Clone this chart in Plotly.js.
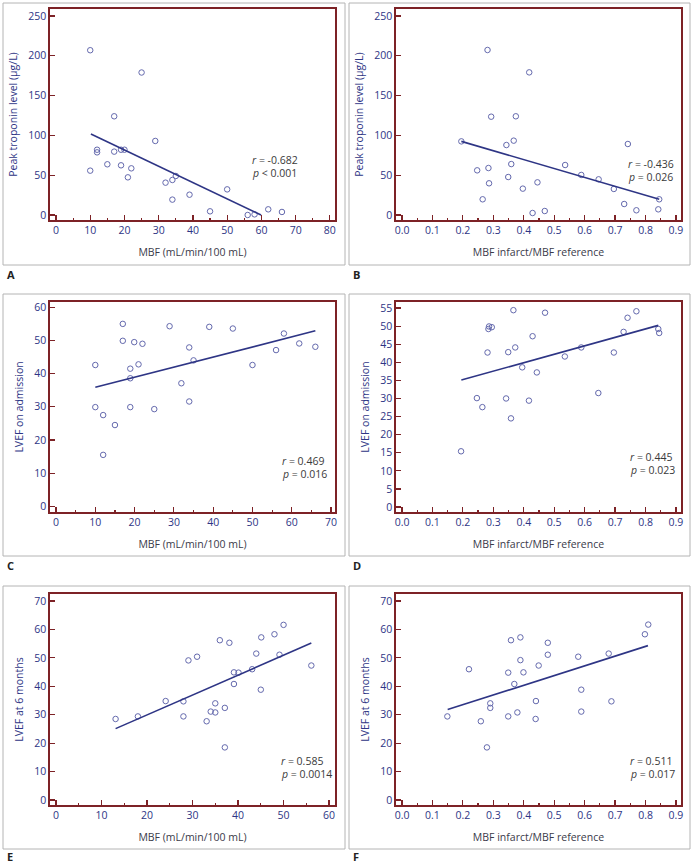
<!DOCTYPE html>
<html>
<head>
<meta charset="utf-8">
<script src="https://cdn.plot.ly/plotly-3.0.1.min.js"></script>
<style>html,body{margin:0;padding:0;background:#fff}#chart{width:693px;height:864px}</style>
</head>
<body>
<div id="chart"></div>
<script>
// Panel A: MBF vs peak troponin
var aMBF = [10,25,17,29,12,12,17,19,20,15,19,22,10,21,35,34,32,50,39,34,45,56,58,62,66];
var aTrop = [207,179,124,93,82,78.7,79.6,82,82,63.7,62.4,58.6,55.7,47.3,49,44,40.6,32.2,25.5,19.3,4.6,0,0.8,7.1,3.8];
var aFitX = [10.2,59.9];
var aFitY = [101.8,0];

// Panel B: MBF ratio vs peak troponin
var bRatio = [0.281,0.418,0.293,0.374,0.195,0.343,0.367,0.742,0.359,0.536,0.589,0.284,0.247,0.349,0.646,0.445,0.286,0.397,0.696,0.265,0.845,0.730,0.469,0.429,0.770,0.842];
var bTrop = [207.3,179.2,123.5,124,92.5,87.9,93.4,89.2,64,62.8,50.3,59,56.1,47.7,44.8,41,39.8,33.1,32.7,19.7,19.7,13.8,5.0,2.5,5.9,7.1];
var bFitX = [0.195,0.845];
var bFitY = [92.5,19.7];

// Panel C: MBF vs LVEF on admission
var cMBF = [17,28.9,39,45,58,17,19.9,22,61.9,33.9,66,56,35,10,21,50,18.9,18.9,31.9,33.9,10,18.9,25,12,15,12];
var cLVEF = [55,54.3,54.1,53.6,52.1,49.9,49.5,49,49.1,47.9,48.1,47.1,44,42.6,42.8,42.6,41.5,38.6,37.1,31.6,29.9,29.9,29.3,27.5,24.5,15.5];
var cFitX = [10,66];
var cFitY = [35.9,52.9];

// Panel D: MBF ratio vs LVEF on admission
var dRatio = [0.366,0.470,0.770,0.741,0.286,0.295,0.284,0.842,0.728,0.845,0.429,0.372,0.589,0.281,0.349,0.696,0.535,0.395,0.443,0.645,0.246,0.342,0.417,0.264,0.358,0.194];
var dLVEF = [54.4,53.7,54.1,52.3,49.9,49.7,49.2,49.2,48.4,48.1,47.2,44.1,44.1,42.7,42.8,42.7,41.6,38.6,37.2,31.5,30.1,30.0,29.4,27.6,24.5,15.4];
var dFitX = [0.195,0.842];
var dFitY = [35.1,50.2];

// Panel E: MBF vs LVEF at 6 months
var eMBF = [50,48,36,38.1,45.1,31,29.1,44,49.1,43.1,56.1,39.1,40.1,39.1,45,24.1,28,35,37.1,34,35,13.1,18,28,33.1,37.1];
var eLVEF = [61.6,58.3,56.2,55.3,57.2,50.4,49.1,51.5,51.1,46,47.3,44.9,44.8,40.8,38.8,34.8,34.7,34,32.4,31.1,30.8,28.5,29.4,29.4,27.7,18.5];
var eFitX = [13.1,56.1];
var eFitY = [25.1,55.2];

// Panel F: MBF ratio vs LVEF at 6 months
var fRatio = [0.809,0.798,0.358,0.389,0.479,0.479,0.579,0.679,0.389,0.449,0.220,0.349,0.399,0.369,0.589,0.440,0.688,0.290,0.290,0.379,0.589,0.149,0.349,0.259,0.439,0.279];
var fLVEF = [61.7,58.3,56.2,57.2,55.3,51.1,50.4,51.5,49.2,47.3,46,44.8,44.9,40.8,38.8,34.8,34.7,34,32.4,30.8,31.1,29.4,29.4,27.7,28.5,18.5];
var fFitX = [0.15,0.808];
var fFitY = [31.8,54.3];

var stats = [["-0.682","<","0.001"],["-0.436","=","0.026"],["0.469","=","0.016"],["0.445","=","0.023"],["0.585","=","0.0014"],["0.511","=","0.017"]];
var panelLetters = ["A","B","C","D","E","F"];
var xTitles = ["MBF (mL/min/100 mL)","MBF infarct/MBF reference"];
var yTitles = ["Peak troponin level (\u03bcg/L)","LVEF on admission","LVEF at 6 months"];

var W = 693, H = 864;
function px(x){return x/W;}
function py(y){return 1 - y/H;}

var NAVY = "#2e3585";
var MARK = "#6469ad";
var MAROON = "#7d2226";
var FONT = "Open Sans, DejaVu Sans, sans-serif";

var series = [
  [aMBF,aTrop,aFitX,aFitY],
  [bRatio,bTrop,bFitX,bFitY],
  [cMBF,cLVEF,cFitX,cFitY],
  [dRatio,dLVEF,dFitX,dFitY],
  [eMBF,eLVEF,eFitX,eFitY],
  [fRatio,fLVEF,fFitX,fFitY]
];

var traces = [];
series.forEach(function(s,i){
  var xa = i===0 ? "x" : "x"+(i+1);
  var ya = i===0 ? "y" : "y"+(i+1);
  traces.push({x:s[0],y:s[1],xaxis:xa,yaxis:ya,type:"scatter",mode:"markers",
    marker:{symbol:"circle-open",size:5.5,color:MARK,line:{width:1,color:MARK}},
    showlegend:false,hoverinfo:"skip",cliponaxis:false});
  traces.push({x:s[2],y:s[3],xaxis:xa,yaxis:ya,type:"scatter",mode:"lines",
    line:{color:NAVY,width:1.6},showlegend:false,hoverinfo:"skip"});
});

// geometry (pixels)
var colX = [[50,335],[396,681]];
var rowY = [[9,220],[302,512],[594,805]];
var xRanges = [[-1.75,81.5],[-0.0197,0.9166],[-1.53,71.0],[-0.0197,0.9166],[-1.31,61.3],[-0.0197,0.9166]];
var yRanges = [[-6.3,258.8],[-6.3,258.8],[-1.72,61.6],[-1.38,56.66],[-1.76,72.46],[-1.76,72.46]];
var yDticks = [50,50,10,5,10,10];
var xDticks = [10,0.1,10,0.1,10,0.1];
var xMinor = [5,0.05,5,0.05,5,0.05];
var annPos = [[56.6,69,52.8],[0.736,64,47.7],[57,13.6,9.8],[0.741,13.7,10.3],[48.9,13.7,9.25],[0.741,13.7,9.2]];

var layout = {width:W,height:H,margin:{l:0,r:0,t:0,b:0},paper_bgcolor:"#fff",plot_bgcolor:"#fff",
  font:{family:FONT,size:10,color:NAVY},shapes:[],annotations:[]};

var boxes = [[3,3,345,265],[349,3,690,265],[3,294,345,556],[349,294,690,556],[3,586,345,849],[349,586,690,849]];
var letterPos = [[5,274],[351,274],[5,565],[351,565],[5,856.5],[351,856.5]];

for (var i=0;i<6;i++){
  var col = i%2, row = Math.floor(i/2);
  var xk = i===0 ? "xaxis" : "xaxis"+(i+1);
  var yk = i===0 ? "yaxis" : "yaxis"+(i+1);
  var yid = i===0 ? "y" : "y"+(i+1);
  var xid = i===0 ? "x" : "x"+(i+1);
  layout[xk] = {domain:[px(colX[col][0]),px(colX[col][1])],anchor:yid,range:xRanges[i],
    dtick:xDticks[i],tick0:0,tickformat: col===1 ? ".1f" : "d",
    ticks:"inside",ticklen:5,tickwidth:1.2,tickcolor:MAROON,
    minor:{dtick:xMinor[i],tick0:0,ticks:"inside",ticklen:2.5,tickwidth:1.2,tickcolor:MAROON},
    showline:true,linecolor:MAROON,linewidth:1.6,mirror:true,showgrid:false,zeroline:false,
    tickfont:{family:FONT,size:10.5,color:NAVY},
    title:{text:xTitles[col],font:{family:FONT,size:10.5,color:"#3a3a4a"},standoff:12}};
  layout[yk] = {domain:[py(rowY[row][1]),py(rowY[row][0])],anchor:xid,range:yRanges[i],
    dtick:yDticks[i],tick0:0,
    ticks:"inside",ticklen:5,tickwidth:1.2,tickcolor:MAROON,
    showline:true,linecolor:MAROON,linewidth:1.6,mirror:true,showgrid:false,zeroline:false,
    tickfont:{family:FONT,size:10.5,color:NAVY},
    title:{text:yTitles[row],font:{family:FONT,size:10.5,color:NAVY},standoff:8}};
  var b = boxes[i];
  layout.shapes.push({type:"rect",xref:"paper",yref:"paper",x0:px(b[0]),x1:px(b[2]),y0:py(b[3]),y1:py(b[1]),
    line:{color:"#b4b4b4",width:1},fillcolor:"rgba(0,0,0,0)",layer:"below"});
  layout.annotations.push({xref:"paper",yref:"paper",x:px(letterPos[i][0]),y:py(letterPos[i][1]),
    xanchor:"left",yanchor:"middle",showarrow:false,text:"<b>"+panelLetters[i]+"</b>",
    font:{family:FONT,size:11,color:"#222"}});
  var st = stats[i];
  layout.annotations.push({xref:xid,yref:yid,x:annPos[i][0],y:annPos[i][1],xanchor:"left",yanchor:"middle",
    showarrow:false,text:"<i>r</i> = "+st[0],font:{family:FONT,size:10.5,color:"#3a3a3a"}});
  layout.annotations.push({xref:xid,yref:yid,x:annPos[i][0],y:annPos[i][2],xanchor:"left",yanchor:"middle",
    showarrow:false,text:"<i>p</i> "+st[1]+" "+st[2],font:{family:FONT,size:10.5,color:"#3a3a3a"}});
}

Plotly.newPlot("chart",traces,layout,{staticPlot:true,displayModeBar:false});
</script>
</body>
</html>
